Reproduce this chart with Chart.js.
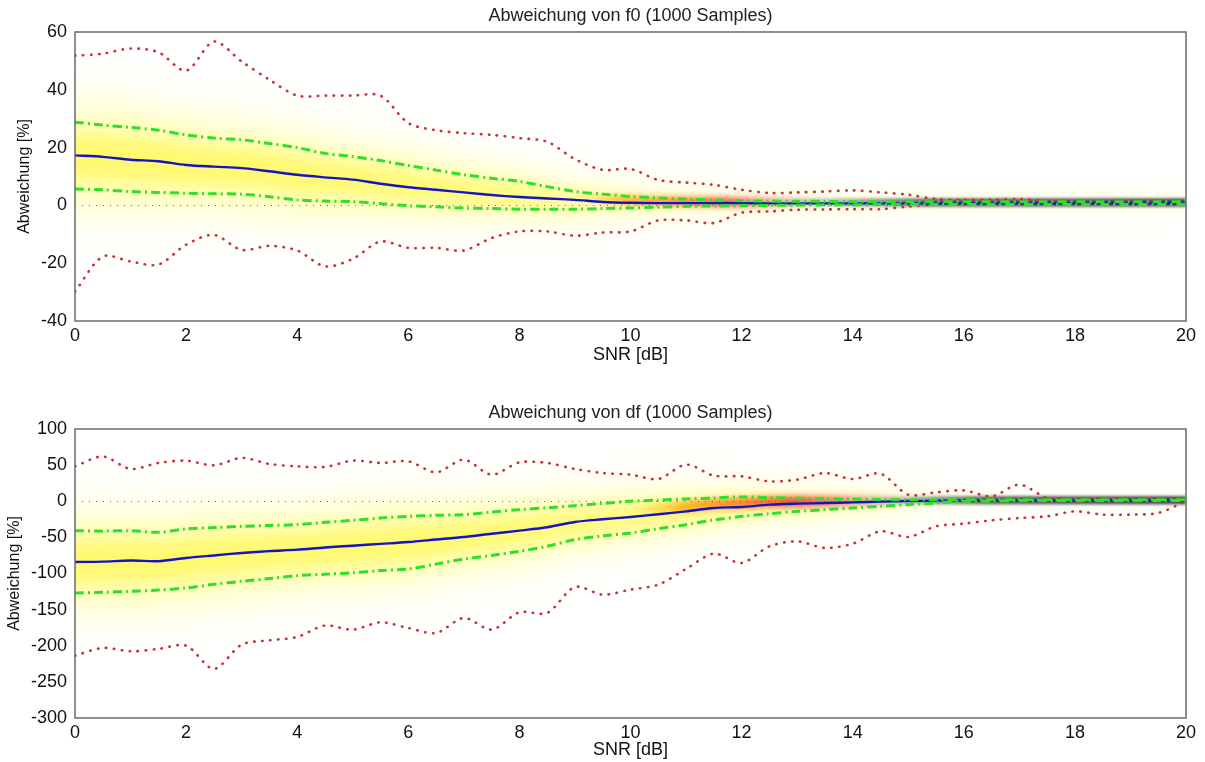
<!DOCTYPE html>
<html>
<head>
<meta charset="utf-8">
<script src="https://cdn.jsdelivr.net/npm/chart.js@4.4.0/dist/chart.umd.js"></script>
<style>
    body { margin: 0; background: #fff; width: 1205px; height: 762px; position: relative; overflow: hidden; }
    .box { position: absolute; left: 0; width: 1205px; height: 372px; }
</style>
</head>
<body>
<div class="box" style="top:0"><canvas id="chartF0"></canvas></div>
<div class="box" style="top:390px"><canvas id="chartDf"></canvas></div>
<script>
// SNR axis (0.5 dB steps)
const snr = [0, 0.5, 1, 1.5, 2, 2.5, 3, 3.5, 4, 4.5, 5, 5.5, 6, 6.5, 7, 7.5, 8, 8.5, 9, 9.5,
             10, 10.5, 11, 11.5, 12, 12.5, 13, 13.5, 14, 14.5, 15, 15.5, 16, 16.5, 17, 17.5, 18, 18.5, 19, 19.5, 20];

// Abweichung von f0
const f0Mean  = [17.3, 16.8, 15.8, 15.3, 14.0, 13.4, 12.9, 11.8, 10.6, 9.7, 8.9, 7.5, 6.3, 5.4, 4.5, 3.6, 2.9, 2.4, 1.9, 1.2,
                 0.9, 0.8, 0.8, 0.8, 0.8, 0.7, 0.7, 0.7, 0.7, 0.7, 0.7, 0.7, 0.7, 0.7, 0.7, 0.7, 0.7, 0.7, 0.7, 0.7, 0.7];
const f0Upper = [28.8, 27.8, 27.0, 26.0, 24.4, 23.3, 22.7, 21.4, 20.0, 18.0, 16.9, 15.5, 13.8, 12.2, 10.6, 9.4, 8.3, 6.5, 4.8, 3.9,
                 3.1, 2.6, 2.2, 1.9, 1.6, 1.5, 1.4, 1.4, 1.3, 1.3, 1.3, 1.3, 1.3, 1.3, 1.3, 1.3, 1.3, 1.3, 1.3, 1.3, 1.3];
const f0Lower = [5.7, 5.4, 4.8, 4.5, 4.2, 4.0, 3.9, 3.0, 1.9, 1.5, 1.3, 0.6, -0.1, -0.5, -0.9, -1.1, -1.3, -1.3, -1.3, -1.1,
                 -0.9, -0.6, -0.3, -0.2, -0.1, 0, 0.1, 0.2, 0.2, 0.3, 0.3, 0.3, 0.3, 0.3, 0.3, 0.3, 0.3, 0.3, 0.3, 0.3, 0.3];
const f0Max   = [51.8, 52.5, 54.3, 53.0, 46.6, 56.7, 49.8, 43.5, 38.0, 38.0, 38.0, 38.0, 28.5, 26.0, 25.0, 24.4, 23.3, 22.0, 16.0, 12.3,
                 12.6, 8.8, 7.9, 7.1, 5.4, 4.3, 4.5, 4.8, 5.2, 4.5, 3.7, 2.2, 1.9, 2.0, 2.2, 1.6, 1.2, 1.2, 1.2, 1.1, 1.0];
const f0Min   = [-29.8, -17.7, -19.4, -20.5, -13.6, -10.2, -15.4, -14.0, -15.6, -21.1, -18.5, -12.5, -14.7, -14.7, -15.6, -11.3, -9.0, -9.0, -10.5, -9.4,
                 -9.0, -5.2, -5.2, -6.1, -2.5, -2.1, -1.5, -1.4, -1.3, -1.3, -0.4, 0.3, 0.4, 0.4, 0.5, 0.5, 0.5, 0.5, 0.5, 0.5, 0.5];

// Abweichung von df
const dfMean  = [-84, -83.5, -82, -83, -78.5, -75, -71.6, -69, -67, -64, -61.5, -59, -56.5, -53, -49.5, -45, -40.7, -36, -28.7, -25,
                 -21.8, -18, -14, -9.3, -8, -4.7, -3.3, -2.5, -1.5, -0.5, 0.3, 0.8, 1, 1, 1, 1, 1, 1, 1, 1, 1];
const dfUpper = [-40.7, -41.4, -40.7, -43, -38.4, -36.5, -34.7, -33.5, -32.4, -29.2, -26.4, -23.2, -20.9, -19.5, -18.5, -15, -11.6, -9, -6.1, -3,
                 0, 1.5, 3.2, 4.5, 6, 5, 4, 3.5, 3, 2.5, 2, 2, 2, 2, 2, 2, 2, 2, 2, 2, 2];
const dfLower = [-127, -126, -124.7, -123, -120, -115, -110.8, -107, -103, -101, -99, -96, -93.7, -87, -79.9, -75, -69.3, -62.4, -53, -48,
                 -43.9, -38, -32.4, -26, -20.9, -17.2, -14, -11.5, -9.3, -7, -4.7, -2.5, 0, 0.5, 1, 1, 1, 1, 1, 1, 1];
const dfMax   = [48.3, 62, 44.7, 53, 56.2, 49.7, 60, 51.6, 48.3, 47.5, 56.2, 53, 55.3, 40, 57.6, 36.8, 53.8, 53, 44.7, 39,
                 36.8, 30.8, 50.7, 35.4, 34.5, 27.5, 29.9, 39, 30.8, 38.2, 9.1, 12.3, 15.1, 6.8, 23, 4.6, 3.2, 3.2, 3.2, 2.5, 2];
const dfMin   = [-213.7, -203, -207.7, -204.4, -199.9, -232, -198.5, -192.5, -187.8, -172, -177.7, -167.6, -175.4, -182.3, -161.5, -177.7, -153.7, -154.6, -118.6, -129.3,
                 -122.3, -115.4, -93.7, -72.5, -85.4, -62.4, -55.5, -64.6, -58.7, -41.6, -49.4, -34.7, -31, -26.4, -23.2, -20.9, -14, -18.5, -18.5, -16.2, 0];

const FONT = "'Liberation Sans', Arial, sans-serif";

// soft density "heat map" behind the curves, built from the band arrays
const heatPlugin = {
    id: 'heat',
    beforeDatasetsDraw(chart, args, opts) {
        const { ctx, chartArea: a, scales: { x, y } } = chart;
        const px = snr.map(v => x.getPixelForValue(v));
        const up = opts.upper.map(v => y.getPixelForValue(v));
        const lo = opts.lower.map(v => y.getPixelForValue(v));
        const mid = opts.mean.map(v => y.getPixelForValue(v));

        ctx.save();
        ctx.beginPath();
        ctx.rect(a.left, a.top, a.width, a.height);
        ctx.clip();

        const band = (k, color, blur) => {
            ctx.filter = 'blur(' + blur + 'px)';
            ctx.beginPath();
            px.forEach((p, i) => {
                const w = (lo[i] - up[i]) * k;
                if (i === 0) ctx.moveTo(p - 20, up[i] - w); else ctx.lineTo(p, up[i] - w);
            });
            for (let i = px.length - 1; i >= 0; i--) {
                const w = (lo[i] - up[i]) * k;
                ctx.lineTo(i === 0 ? px[i] - 20 : px[i], lo[i] + w);
            }
            ctx.closePath();
            ctx.fillStyle = color;
            ctx.fill();
        };
        band(0.45, 'rgba(255,255,185,0.6)', 20);
        band(0.05, 'rgba(255,252,130,0.6)', 12);
        band(-0.2, 'rgba(255,245,60,0.5)', 8);

        // hot zone where the estimates converge
        const path = (from, to, off) => {
            ctx.beginPath();
            let started = false;
            snr.forEach((s, i) => {
                if (s < from || s > to) return;
                const yy = mid[i] + (up[i] - mid[i]) * off;
                if (!started) { ctx.moveTo(px[i], yy); started = true; } else ctx.lineTo(px[i], yy);
            });
        };
        const h0 = x.getPixelForValue(opts.hot[0]), h1 = x.getPixelForValue(opts.hot[1]);
        let g = ctx.createLinearGradient(h0, 0, h1, 0);
        g.addColorStop(0, 'rgba(255,200,0,0)');
        g.addColorStop(0.2, 'rgba(255,160,0,0.85)');
        g.addColorStop(0.6, 'rgba(245,50,20,0.9)');
        g.addColorStop(1, 'rgba(200,30,30,0)');
        ctx.filter = 'blur(3px)';
        ctx.strokeStyle = g;
        ctx.lineWidth = opts.hotWidth;
        path(opts.hot[0], opts.hot[1], 0.4);
        ctx.stroke();

        // saturated dark band at high SNR
        const d0 = x.getPixelForValue(opts.dark[0]), d1 = x.getPixelForValue(opts.dark[1]);
        g = ctx.createLinearGradient(d0, 0, d1, 0);
        g.addColorStop(0, 'rgba(60,60,60,0)');
        g.addColorStop(0.4, 'rgba(50,50,50,0.8)');
        g.addColorStop(1, 'rgba(40,40,40,0.9)');
        ctx.filter = 'blur(1.5px)';
        ctx.strokeStyle = g;
        ctx.lineWidth = 8;
        path(opts.dark[0], 20, 0.5);
        ctx.stroke();

        // zero reference line
        ctx.filter = 'none';
        const y0 = Math.round(y.getPixelForValue(0)) + 0.5;
        ctx.setLineDash([1, 6]);
        ctx.strokeStyle = '#666';
        ctx.lineWidth = 1;
        ctx.beginPath();
        ctx.moveTo(a.left, y0);
        ctx.lineTo(a.right, y0);
        ctx.stroke();
        ctx.restore();
    },
    afterDraw(chart, args, opts) {
        const { ctx, chartArea: a } = chart;
        ctx.save();
        ctx.strokeStyle = '#6a6a6a';
        ctx.lineWidth = 1.5;
        ctx.strokeRect(a.left, a.top, a.width, a.height);
        ctx.fillStyle = '#222';
        ctx.font = '18px ' + FONT;
        ctx.textAlign = 'center';
        ctx.textBaseline = 'middle';
        ctx.fillText(opts.title, (a.left + a.right) / 2, a.top - 16);
        ctx.restore();
    }
};

function series(vals) {
    return snr.map((s, i) => ({ x: s, y: vals[i] }));
}

function buildChart(canvas, cfg) {
    const line = (vals, color, width, dash, cap) => ({
        data: series(vals),
        borderColor: color,
        borderWidth: width,
        borderDash: dash,
        borderCapStyle: cap || 'butt',
        pointRadius: 0,
        tension: 0.3,
        fill: false
    });
    return new Chart(canvas.getContext('2d'), {
        type: 'line',
        data: {
            datasets: [
                line(cfg.upper, '#2de02a', 3, [9, 4, 2, 4]),
                line(cfg.lower, '#2de02a', 3, [9, 4, 2, 4]),
                line(cfg.mean, '#1414c4', 2.4),
                line(cfg.max, '#c8323c', 2.6, [0.5, 7.5], 'round'),
                line(cfg.min, '#c8323c', 2.6, [0.5, 7.5], 'round')
            ]
        },
        options: {
            responsive: true,
            maintainAspectRatio: false,
            animation: false,
            layout: { padding: { top: cfg.padTop, right: 19, left: 0, bottom: 0 } },
            plugins: {
                legend: { display: false },
                tooltip: { enabled: false },
                heat: {
                    title: cfg.title,
                    upper: cfg.upper, lower: cfg.lower, mean: cfg.mean,
                    hot: cfg.hot, hotWidth: cfg.hotWidth, dark: cfg.dark
                }
            },
            scales: {
                x: {
                    type: 'linear',
                    min: 0, max: 20,
                    afterFit: s => { s.height = cfg.xHeight; },
                    ticks: { stepSize: 2, color: '#111', padding: 4, font: { family: FONT, size: 18 } },
                    grid: { display: false, drawTicks: false },
                    border: { display: false },
                    title: {
                        display: true, text: 'SNR [dB]', color: '#111',
                        font: { family: FONT, size: 18 },
                        padding: { top: 0, bottom: cfg.xTitlePad }
                    }
                },
                y: {
                    min: cfg.yMin, max: cfg.yMax,
                    afterFit: s => { s.width = 75; },
                    ticks: { stepSize: cfg.yStep, color: '#111', padding: 8, font: { family: FONT, size: 18 } },
                    grid: { display: false, drawTicks: false },
                    border: { display: false },
                    title: {
                        display: true, text: 'Abweichung [%]', color: '#111',
                        font: { family: FONT, size: 16 },
                        padding: { top: cfg.yTitlePad, bottom: 0 }
                    }
                }
            }
        },
        plugins: [heatPlugin]
    });
}

buildChart(document.getElementById('chartF0'), {
    title: 'Abweichung von f0 (1000 Samples)',
    mean: f0Mean, upper: f0Upper, lower: f0Lower, max: f0Max, min: f0Min,
    yMin: -40, yMax: 60, yStep: 20,
    padTop: 32, xHeight: 51, xTitlePad: 6, yTitlePad: 15,
    hot: [9, 13.5], hotWidth: 8, dark: [12.5, 20]
});

buildChart(document.getElementById('chartDf'), {
    title: 'Abweichung von df (1000 Samples)',
    mean: dfMean, upper: dfUpper, lower: dfLower, max: dfMax, min: dfMin,
    yMin: -300, yMax: 100, yStep: 50,
    padTop: 39, xHeight: 44, xTitlePad: 1, yTitlePad: 5,
    hot: [10, 15], hotWidth: 10, dark: [14, 20]
});
</script>
</body>
</html>
